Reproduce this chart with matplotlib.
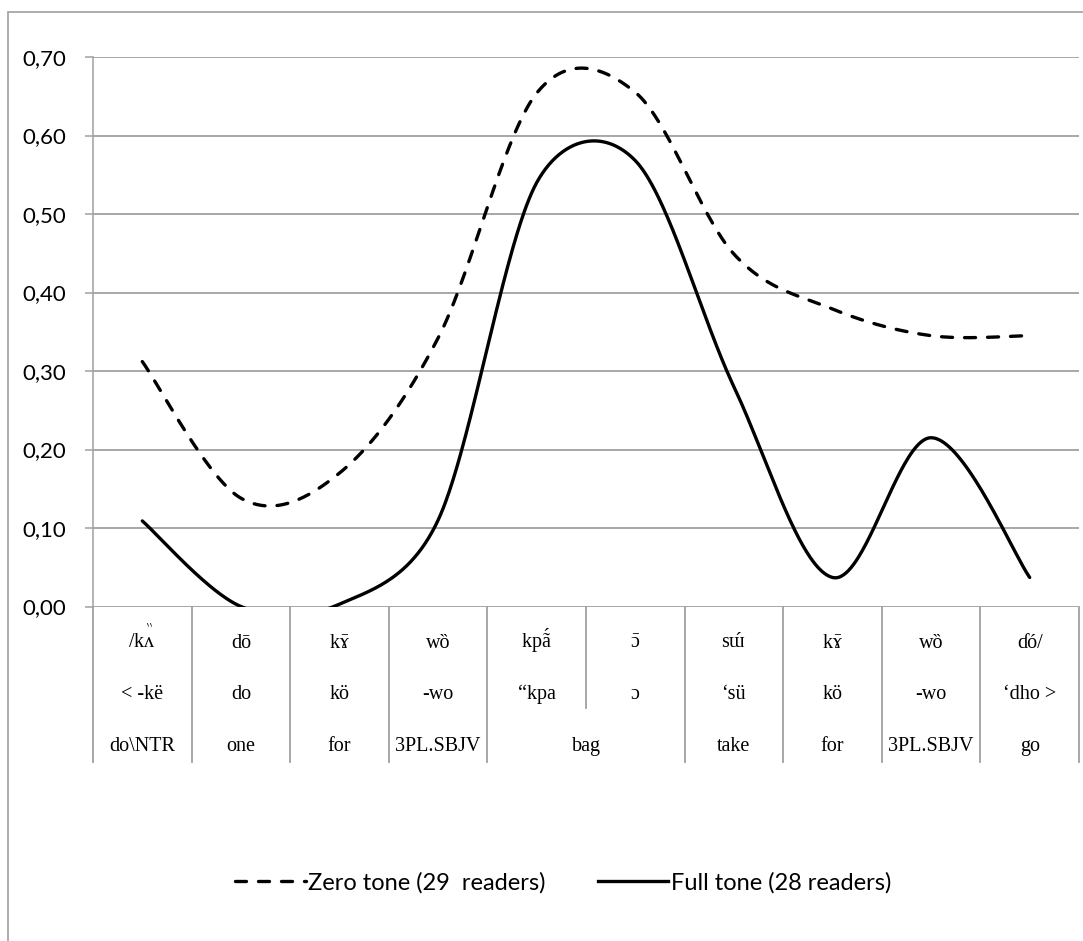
import unicodedata
import numpy as np
import matplotlib
matplotlib.use("Agg")
import matplotlib.pyplot as plt
from matplotlib.lines import Line2D
from matplotlib.patches import Rectangle
import matplotlib.transforms as mtransforms

plt.rcParams['mathtext.fontset'] = 'custom'
plt.rcParams['mathtext.rm'] = 'Liberation Serif'
plt.rcParams['mathtext.it'] = 'Liberation Serif:italic'
plt.rcParams['mathtext.bf'] = 'Liberation Serif:bold'

# ---------------- data ----------------
tone_row = ["/k\u028c\u030f", "d\u014d", "k\u0264\u0304", "w\u020d", "kp\u00e3\u0301",
            "\u0254\u0304", "s\u026f\u0301", "k\u0264\u0304", "w\u020d", "\u0257\u00f3/"]
ortho_row = ["< -k\u00eb", "do", "k\u00f6", "-wo", "\u201ckpa",
             "\u0254", "\u2018s\u00fc", "k\u00f6", "-wo", "\u2018dho >"]
gloss_row = ["do\\NTR", "one", "for", "3PL.SBJV", "bag", "take", "for", "3PL.SBJV", "go"]
gloss_span = [1, 1, 1, 1, 2, 1, 1, 1, 1]

zero_tone = [0.312, 0.138, 0.170, 0.342, 0.654, 0.655, 0.449, 0.379, 0.345, 0.345]
full_tone = [0.109, 0.000, 0.003, 0.110, 0.540, 0.568, 0.280, 0.037, 0.215, 0.037]

series_names = ["Zero tone (29  readers)", "Full tone (28 readers)"]
yticks = [0.0, 0.1, 0.2, 0.3, 0.4, 0.5, 0.6, 0.7]

W, H = 1083, 941
fig = plt.figure(figsize=(W / 100, H / 100), dpi=100)
fig.patch.set_facecolor("white")

# outer chart border
fig.patches.append(Rectangle((8 / W, -0.02), 1.05, 1 - 12 / H + 0.02, transform=fig.transFigure,
                             fill=False, edgecolor="#a6a6a6", linewidth=1.3, zorder=0))

left, right = 93 / W, 1079 / W
bottom, top = 1 - 606.5 / H, 1 - 57 / H
ax = fig.add_axes([left, bottom, right - left, top - bottom])

grid_col = "#a0a0a0"
ax.set_xlim(-0.5, len(zero_tone) - 0.5)
ax.set_ylim(0, 0.70)
ax.set_yticks(yticks)
ax.set_yticklabels([f"{v:.2f}".replace(".", ",") for v in yticks],
                   fontdict={"family": "Lato", "size": 16})
ax.tick_params(axis="y", direction="out", length=6, width=1.1, color=grid_col, pad=13)
ax.set_xticks([])
for s in ["top", "right", "bottom"]:
    ax.spines[s].set_visible(False)
ax.spines["left"].set_color(grid_col)
ax.spines["left"].set_linewidth(1.1)
ax.yaxis.grid(True, color=grid_col, linewidth=1.3)
ax.set_axisbelow(True)


def excel_smooth(vals, n=80):
    """Excel-style smoothed line (Bezier through points, tangents limited
    to half the segment length, computed in screen space)."""
    x = np.arange(len(vals), dtype=float)
    P = ax.transData.transform(np.column_stack([x, np.asarray(vals, float)]))
    m = len(P)
    out = []
    for i in range(m - 1):
        p0 = P[max(i - 1, 0)]; p1 = P[i]; p2 = P[i + 1]; p3 = P[min(i + 2, m - 1)]
        d02 = np.hypot(*(p2 - p0)); d12 = np.hypot(*(p2 - p1)); d13 = np.hypot(*(p3 - p1))
        f1 = 1 / 6 if d02 / 6 < d12 / 2 else d12 / (2 * d02)
        f2 = 1 / 6 if d13 / 6 < d12 / 2 else d12 / (2 * d13)
        c1 = p1 + (p2 - p0) * f1
        c2 = p2 - (p3 - p1) * f2
        t = np.linspace(0, 1, n)[:, None]
        out.append(((1 - t) ** 3) * p1 + 3 * ((1 - t) ** 2) * t * c1
                   + 3 * (1 - t) * t ** 2 * c2 + t ** 3 * p2)
    pts = ax.transData.inverted().transform(np.vstack(out))
    return pts[:, 0], pts[:, 1]


lw = 2.4
dash = (0, (3.3, 3.6))
xz, yz = excel_smooth(zero_tone)
xf, yf = excel_smooth(full_tone)
ax.plot(xz, yz, color="black", linewidth=lw, linestyle=dash, dash_capstyle="round")
ax.plot(xf, yf, color="black", linewidth=lw, solid_capstyle="round")

# ---------------- category table below the axis ----------------
trans = mtransforms.blended_transform_factory(ax.transData, ax.transAxes)
ax_h = 606.5 - 57


def ay(px):
    return -(px - 606.5) / ax_h


n = len(zero_tone)
for b in np.arange(-0.5, n, 1.0):
    y_end = 708 if abs(b - 4.5) < 1e-9 else 762
    ax.plot([b, b], [0, ay(y_end)], transform=trans, color=grid_col, linewidth=1.3, clip_on=False)

serif = ["Liberation Serif", "DejaVu Serif"]
fs = 14.5

# combining diacritics -> mathtext accents (matplotlib cannot position combining marks)
accent_tpl = {"\u0301": r"\acute{%s}", "\u0304": r"\bar{%s}",
              "\u030f": r"\overset{\backprime\!\backprime}{%s}"}


def to_display(s):
    out = []
    for ch in s:
        if unicodedata.combining(ch) and out:
            base = out.pop()
            out.append("$\\mathrm{" + accent_tpl[ch] % base + "}$")
        else:
            out.append(ch)
    return "".join(out)


def label(xc, ybase, s):
    ax.text(xc, ay(ybase), to_display(s), transform=trans, ha="center", va="baseline",
            family=serif, fontsize=fs)


for i, lab in enumerate(tone_row):
    label(i, 648, lab)
for i, lab in enumerate(ortho_row):
    label(i, 699, lab)
pos = 0
for lab, sp in zip(gloss_row, gloss_span):
    label(pos + (sp - 1) / 2, 751, lab)
    pos += sp

handles = [Line2D([], [], color="black", linewidth=lw, linestyle=dash, dash_capstyle="round"),
           Line2D([], [], color="black", linewidth=lw)]
fig.legend(handles, series_names, loc="center", bbox_to_anchor=(563 / W, 1 - 883 / H),
           ncol=2, frameon=False, prop={"family": "Lato", "size": 17},
           handlelength=3.0, handletextpad=0.1, columnspacing=2.2)

fig.savefig("out.png", dpi=100, facecolor="white")
